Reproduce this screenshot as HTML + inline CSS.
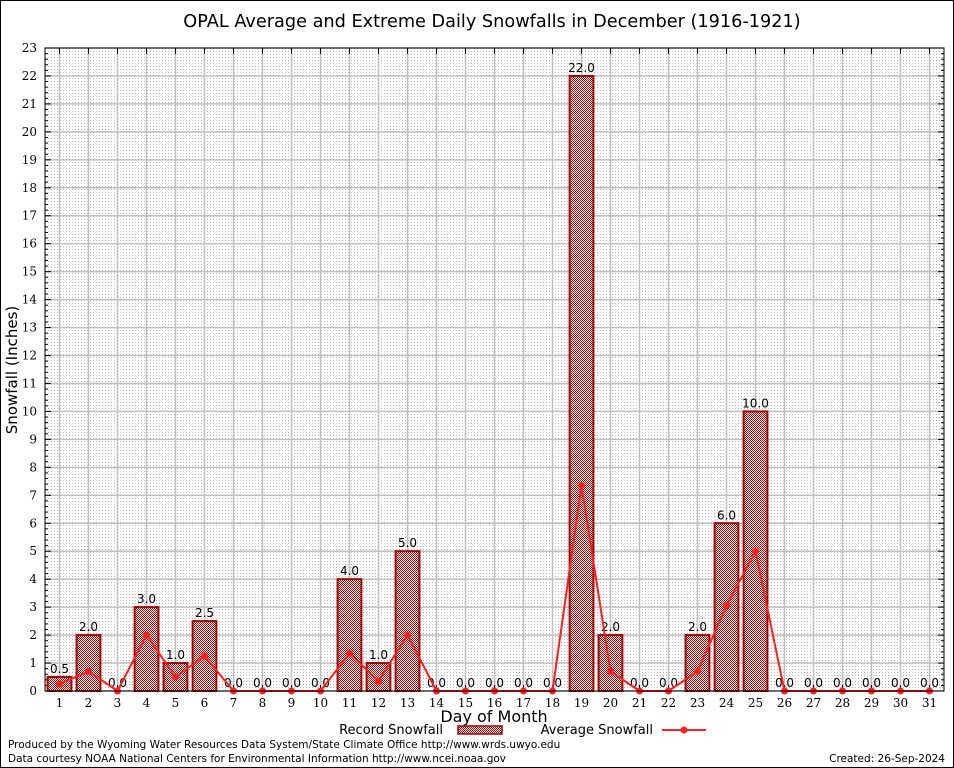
<!DOCTYPE html>
<html><head><meta charset="utf-8"><style>
body{margin:0;background:#fff}
svg{display:block;font-family:"DejaVu Sans","Liberation Sans",sans-serif}
.t{font-family:"DejaVu Serif","Liberation Serif",serif;font-size:12px}
</style></head><body>
<svg id="c" width="954" height="768">
<defs>
<pattern id="dots" width="3" height="3" patternUnits="userSpaceOnUse"><rect width="3" height="3" fill="#fff"/><rect width="1" height="1" fill="#bbb"/></pattern>
<pattern id="chk" width="2" height="2" patternUnits="userSpaceOnUse"><rect width="2" height="2" fill="#fff"/><rect width="1" height="1" fill="#b00000"/><rect x="1" y="1" width="1" height="1" fill="#b00000"/></pattern>
</defs>
<rect x="0.5" y="0.5" width="953" height="767" fill="#fff" stroke="#000"/>
<text x="492" y="27" text-anchor="middle" font-size="17.7">OPAL Average and Extreme Daily Snowfalls in December (1916-1921)</text>
<g id="plot"></g>
<text transform="translate(17,370) rotate(-90)" text-anchor="middle" font-size="15">Snowfall (Inches)</text>
<text x="494" y="722" text-anchor="middle" font-size="16">Day of Month</text>
<g>
<text x="443" y="734" text-anchor="end" font-size="13">Record Snowfall</text>
<rect x="458" y="726" width="44" height="8" fill="url(#chk)" stroke="#a00000" stroke-width="1.5"/>
<text x="653" y="734" text-anchor="end" font-size="13">Average Snowfall</text>
<line x1="662" y1="730" x2="706" y2="730" stroke="#ff2020" stroke-width="2"/>
<circle cx="684" cy="730" r="3.5" fill="#ff2020"/>
</g>
<text x="8" y="748" font-size="10.5">Produced by the Wyoming Water Resources Data System/State Climate Office http://www.wrds.uwyo.edu</text>
<text x="8" y="762" font-size="10.5">Data courtesy NOAA National Centers for Environmental Information http://www.ncei.noaa.gov</text>
<text x="945" y="762" text-anchor="end" font-size="10.5">Created:  26-Sep-2024</text>
</svg>
<script>
const days=[1,2,3,4,5,6,7,8,9,10,11,12,13,14,15,16,17,18,19,20,21,22,23,24,25,26,27,28,29,30,31];
const recordValues=[0.5,2,0,3,1,2.5,0,0,0,0,4,1,5,0,0,0,0,0,22,2,0,0,2,6,10,0,0,0,0,0,0];
const averageValues=[0.25,0.7,0,2,0.5,1.25,0,0,0,0,1.35,0.35,2,0,0,0,0,0,7.35,0.7,0,0,0.7,3.05,5,0,0,0,0,0,0];
const yTicks=[0,1,2,3,4,5,6,7,8,9,10,11,12,13,14,15,16,17,18,19,20,21,22,23];
const L=45,R=944,T=48,B=691,yMax=23;
const xs=d=>L+(d-0.5)*(R-L)/31;
const ys=v=>B-v*(B-T)/yMax;
const NS='http://www.w3.org/2000/svg';
const g=document.getElementById('plot');
function mk(t,a,p){const e=document.createElementNS(NS,t);for(const k in a)e.setAttribute(k,a[k]);(p||g).appendChild(e);return e;}
const bg=mk('rect',{x:L,y:T,width:R-L,height:B-T,fill:'url(#dots)'});


yTicks.forEach(v=>{const l=mk('line',{x1:L,x2:R,y1:ys(v),y2:ys(v),stroke:'#c0c0c0','stroke-width':1.5});


const t=mk('text',{x:L-8,y:ys(v)+4,'text-anchor':'end',class:'t'});t.textContent=v;


mk('line',{x1:L,x2:L+6,y1:ys(v),y2:ys(v),stroke:'#000'});mk('line',{x1:R-6,x2:R,y1:ys(v),y2:ys(v),stroke:'#000'});
if(v<yMax)for(let m=1;m<5;m++){const yy=ys(v+m*0.2);mk('line',{x1:L,x2:L+3,y1:yy,y2:yy,stroke:'#000'});mk('line',{x1:R-3,x2:R,y1:yy,y2:yy,stroke:'#000'});}
});
days.forEach(d=>{const l=mk('line',{x1:xs(d),x2:xs(d),y1:T,y2:B,stroke:'#c0c0c0','stroke-width':1.5});


const t=mk('text',{x:xs(d),y:B+16,'text-anchor':'middle',class:'t'});t.textContent=d;


mk('line',{x1:xs(d),x2:xs(d),y1:B,y2:B-6,stroke:'#000'});mk('line',{x1:xs(d),x2:xs(d),y1:T,y2:T+6,stroke:'#000'});
});
const bw=(R-L)/31*0.82;
days.forEach((d,i)=>{const v=recordValues[i];
if(v>0){const r=mk('rect',{x:xs(d)-bw/2,y:ys(v),width:bw,height:B-ys(v),fill:'url(#chk)',stroke:'#a00000','stroke-width':2});

}
const t=mk('text',{x:xs(d),y:ys(v)-4,'text-anchor':'middle','font-size':12});t.textContent=v.toFixed(1);


});
const pl=mk('polyline',{points:days.map((d,i)=>xs(d)+','+ys(averageValues[i])).join(' '),fill:'none',stroke:'#ff2020','stroke-width':2});


days.forEach((d,i)=>{const c=mk('circle',{cx:xs(d),cy:ys(averageValues[i]),r:3.5,fill:'#ff2020'});

});
const fr=mk('rect',{x:L,y:T,width:R-L,height:B-T,fill:'none',stroke:'#000'});


</script>
</body></html>
